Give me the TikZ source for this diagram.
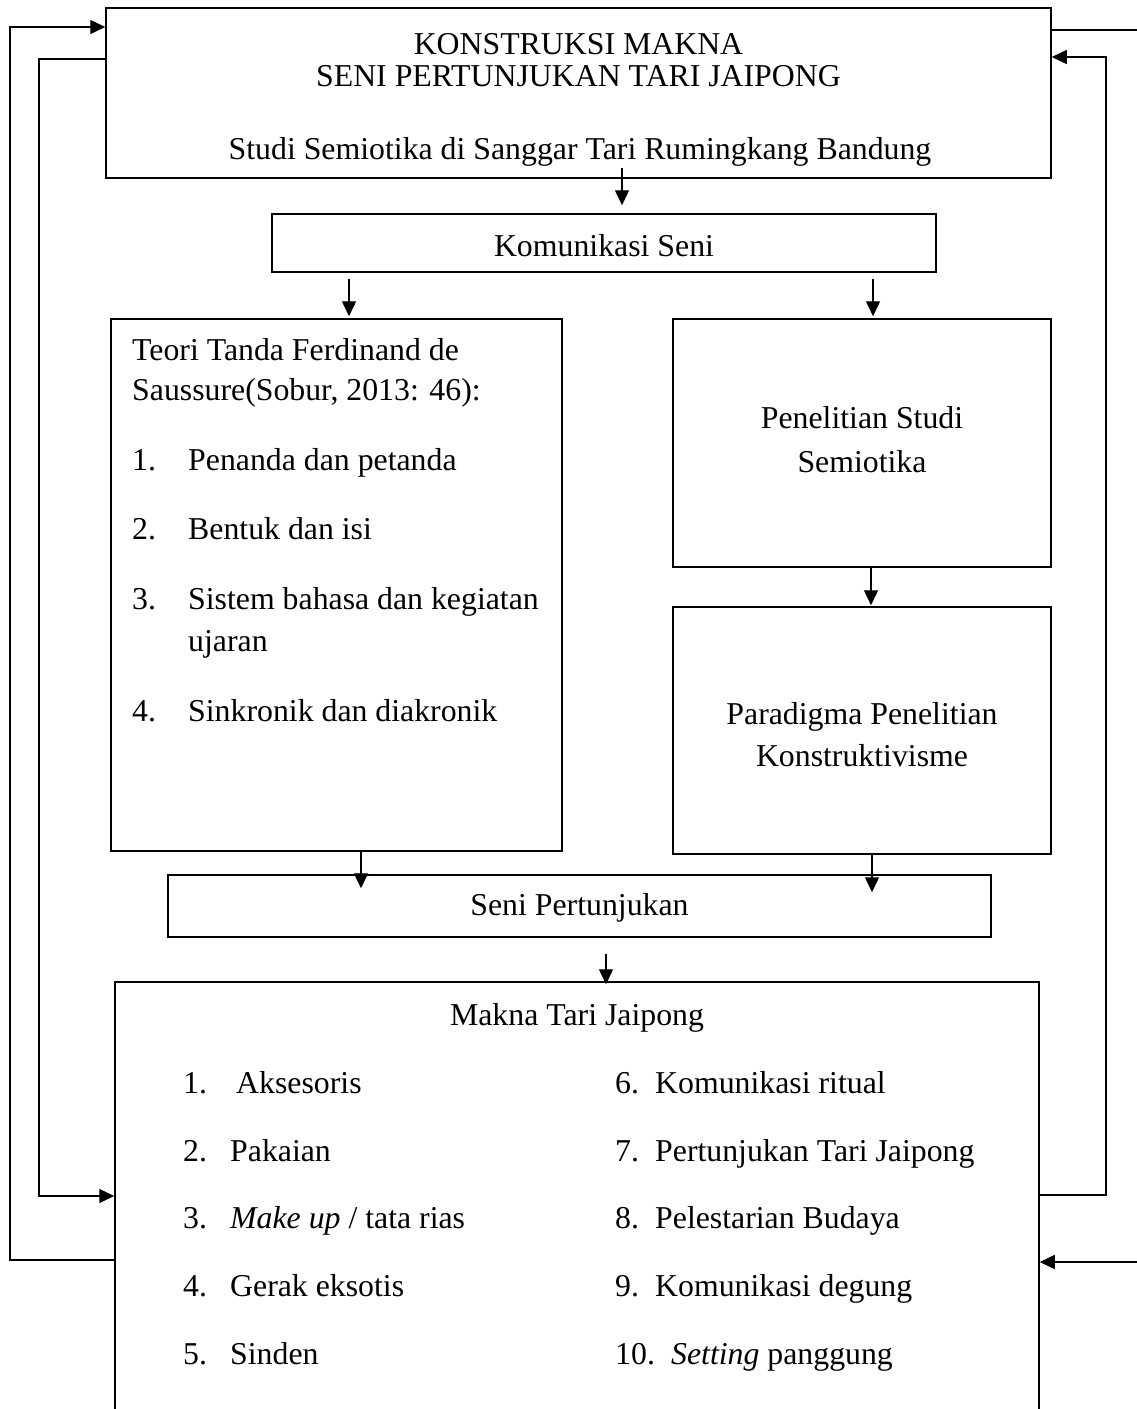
\documentclass[tikz,border=0pt]{standalone}
\usepackage{fontspec}
\setmainfont{Liberation Serif}
\usetikzlibrary{arrows.meta}
\begin{document}
\begin{tikzpicture}[x=1pt,y=-1pt,
  box/.style={draw, line width=1.5pt, inner sep=0pt},
  txt/.style={font=\fontsize{31.8}{38}\selectfont, inner sep=0pt, anchor=base},
  txtl/.style={txt, anchor=base west},
  conn/.style={line width=1.4pt},
  arr/.style={conn, -{Triangle[length=15pt,width=14pt]}}]
\clip (0,0) rectangle (1137,1409);
\fill[white] (0,0) rectangle (1137,1409);

% boxes
\node[box, minimum width=945pt, minimum height=170pt] (top) at (578.5,93) {};
\node[box, minimum width=664pt, minimum height=58pt] (kom) at (604,243) {};
\node[box, minimum width=451pt, minimum height=532pt] (teori) at (336.5,585) {};
\node[box, minimum width=378pt, minimum height=248pt] (pen) at (862,443) {};
\node[box, minimum width=378pt, minimum height=247pt] (par) at (862,730.5) {};
\node[box, minimum width=823pt, minimum height=62pt] (seni) at (579.5,906) {};
\node[box, minimum width=924pt, minimum height=460pt] (makna) at (577,1212) {};

% texts
\node[txt] (t1) at (578.5,54) {KONSTRUKSI MAKNA};
\node[txt] (t2) at (578.5,86) {SENI PERTUNJUKAN TARI JAIPONG};
\node[txt] (t3) at (580,159) {Studi Semiotika di Sanggar Tari Rumingkang Bandung};
\node[txt] (k1) at (604,256) {Komunikasi Seni};

\node[txtl] (s1) at (132,360) {Teori Tanda Ferdinand de};
\node[txtl] (s2) at (132,400) {Saussure(Sobur, 2013: 46):};
\node[txtl] (n1) at (132,470) {1.};
\node[txtl] (i1) at (188,470) {Penanda dan petanda};
\node[txtl] (n2) at (132,539) {2.};
\node[txtl] (i2) at (188,539) {Bentuk dan isi};
\node[txtl] (n3) at (132,609) {3.};
\node[txtl] (i3) at (188,609) {Sistem bahasa dan kegiatan};
\node[txtl] (i3b) at (188,651) {ujaran};
\node[txtl] (n4) at (132,721) {4.};
\node[txtl] (i4) at (188,721) {Sinkronik dan diakronik};

\node[txt] (p1) at (862,428) {Penelitian Studi};
\node[txt] (p2) at (862,472) {Semiotika};
\node[txt] (q1) at (862,724) {Paradigma Penelitian};
\node[txt] (q2) at (862,766) {Konstruktivisme};

\node[txt] (sp) at (579.5,915) {Seni Pertunjukan};
\node[txt] (mk) at (577,1025) {Makna Tari Jaipong};

\node[txtl] (m1n) at (183,1093) {1.};
\node[txtl] (m1) at (236,1093) {Aksesoris};
\node[txtl] (m2n) at (183,1161) {2.};
\node[txtl] (m2) at (230,1161) {Pakaian};
\node[txtl] (m3n) at (183,1228) {3.};
\node[txtl] (m3) at (230,1228) {\textit{Make up} / tata rias};
\node[txtl] (m4n) at (183,1296) {4.};
\node[txtl] (m4) at (230,1296) {Gerak eksotis};
\node[txtl] (m5n) at (183,1364) {5.};
\node[txtl] (m5) at (230,1364) {Sinden};

\node[txtl] (m6n) at (615,1093) {6.};
\node[txtl] (m6) at (655,1093) {Komunikasi ritual};
\node[txtl] (m7n) at (615,1161) {7.};
\node[txtl] (m7) at (655,1161) {Pertunjukan Tari Jaipong};
\node[txtl] (m8n) at (615,1228) {8.};
\node[txtl] (m8) at (655,1228) {Pelestarian Budaya};
\node[txtl] (m9n) at (615,1296) {9.};
\node[txtl] (m9) at (655,1296) {Komunikasi degung};
\node[txtl] (m10n) at (615,1364) {10.};
\node[txtl] (m10) at (671,1364) {\textit{Setting} panggung};

% vertical arrows
\coordinate (a1) at (622,0);
\coordinate (a2) at (349,0);
\coordinate (a3) at (873,0);
\coordinate (a4) at (871,0);
\coordinate (a5) at (361,0);
\coordinate (a6) at (872,0);
\coordinate (a7) at (606,0);
\draw[arr, shorten <=-11pt, shorten >=8pt] (top.south -| a1) -- (kom.north -| a1);
\draw[arr, shorten <=6pt, shorten >=2pt] (kom.south -| a2) -- (teori.north -| a2);
\draw[arr, shorten <=6pt, shorten >=2pt] (kom.south -| a3) -- (pen.north -| a3);
\draw[arr, shorten >=1pt] (pen.south -| a4) -- (par.north -| a4);
\draw[arr, shorten >=-14pt] (teori.south -| a5) -- (seni.north -| a5);
\draw[arr, shorten >=-18pt] (par.south -| a6) -- (seni.north -| a6);
\draw[arr, shorten <=16pt, shorten >=-3pt] (seni.south -| a7) -- (makna.north -| a7);

% feedback connectors
\coordinate (L1) at (10,1260);
\coordinate (L2) at (10,27);
\coordinate (L3) at (39,59);
\coordinate (L4) at (39,1196);
\coordinate (R1) at (1137,30);
\coordinate (R2) at (1106,1195);
\coordinate (R3) at (1106,57);
\coordinate (R4) at (1137,1262);
\draw[arr] (L1 -| makna.west) -- (L1) -- (L2) -- (L2 -| top.west);
\draw[arr] (L3 -| top.west) -- (L3) -- (L4) -- (L4 -| makna.west);
\draw[conn] (R1 -| top.east) -- (R1);
\draw[arr] (R2 -| makna.east) -- (R2) -- (R3) -- (R3 -| top.east);
\draw[arr] (R4) -- (R4 -| makna.east);
\end{tikzpicture}
\end{document}
